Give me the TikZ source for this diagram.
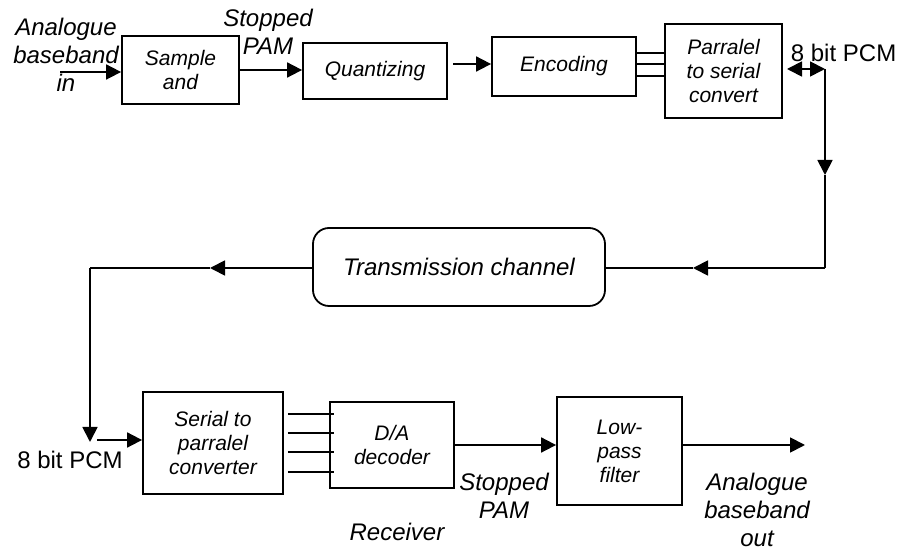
\documentclass[tikz,border=0pt]{standalone}
\usepackage{fontspec}
\setmainfont{Liberation Sans}
\usetikzlibrary{positioning}
\usetikzlibrary{arrows.meta}
\usetikzlibrary{calc}

\begin{document}
\begin{tikzpicture}[ x = 0.5pt, y = -0.5pt
                   , >={Triangle[width=7.5pt, length=7.5pt]}
                   , line width = 0.9pt
                   , every node/.style = { align = center
                                       , inner sep = 0pt }
                   ]

    \tikzset{ block/.style = { rectangle
                             , draw = black
                             , font = \fontsize{10.5}{12}\selectfont\itshape }
            , chan/.style = { block, rounded corners = 8pt
                            , font = \fontsize{12}{14}\selectfont\itshape }
            , lbl/.style = { font = \fontsize{12}{14}\selectfont\itshape }
            , pcm/.style = { font = \fontsize{12}{14}\selectfont }}

    \useasboundingbox (0,0) rectangle (906,549);
    %%
    %% Nodes
    %%
    \node (sample) [block, minimum width=58.5pt, minimum height=34pt]   at (180.5,70)  {Sample\\and};
    \node (quant)  [block, minimum width=72pt, minimum height=28pt]     at (375,71)    {Quantizing};
    \node (enc)    [block, minimum width=72pt, minimum height=29.5pt]   at (564,66.5)  {Encoding};
    \node (ps)     [block, minimum width=58.5pt, minimum height=47pt]   at (723.5,71)  {Parralel\\to serial\\convert};
    \node (chan)   [chan, minimum width=146pt, minimum height=39pt]     at (459,267)   {Transmission channel};
    \node (sp)     [block, minimum width=70pt, minimum height=51pt]     at (213,443)   {Serial to\\parralel\\converter};
    \node (da)     [block, minimum width=62pt, minimum height=43pt]     at (392,445)   {D/A\\decoder};
    \node (lpf)    [block, minimum width=62.5pt, minimum height=54pt]   at (619.5,451) {Low-\\pass\\filter};

    %% labels
    \node (inlbl)  [lbl] at (66,55)   {Analogue\\baseband\\in};
    \node (pam1)   [lbl] at (268,32)  {Stopped\\PAM};
    \node (pcm1)   [pcm, anchor=west] at (790,53) {8 bit PCM};
    \node (pcm2)   [pcm] at (70,460)  {8 bit PCM};
    \node (pam2)   [lbl] at (504,496) {Stopped\\PAM};
    \node (outlbl) [lbl] at (757,510) {Analogue\\baseband\\out};
    \node (rx)     [lbl] at (397,532) {Receiver};

    %% corners of the line
    \coordinate (in)    at (60,72);
    \coordinate (qe)    at (453,64);
    \coordinate (psout) at (787,69);
    \coordinate (rt)    at (825,69);
    \coordinate (rdn)   at (825,175);
    \coordinate (rb)    at (825,268);
    \coordinate (rarr)  at (693,268);
    \coordinate (larr)  at (210,268);
    \coordinate (lt)    at (90,268);
    \coordinate (ldn)   at (90,442);
    \coordinate (spin)  at (97,440);
    \coordinate (out)   at (805,445);

    %%
    %% Connections
    %%
    \draw[->] (in) -- (sample.west |- in);
    \draw[->] (sample.east) -- (quant.west |- sample.east);
    \draw[->] (qe) -- (qe -| enc.west);
    \foreach \y in {53,64,76}
      \draw (enc.east |- 0,\y) -- (ps.west |- 0,\y);
    \draw[<->] (psout) -- (rt);
    \draw[->] (rt) -- (rdn);
    \draw (rdn) -- (rb);
    \draw[->] (rb) -- (rarr);
    \draw (rarr) -- (chan.east |- rarr);
    \draw[->] (chan.west |- larr) -- (larr);
    \draw (larr) -- (lt);
    \draw[->] (lt) -- (ldn);
    \draw[->] (spin) -- (sp.west |- spin);
    \foreach \y in {414,433,452,472}
      \draw ($(sp.east |- 0,\y)+(4,0)$) -- ($(da.west |- 0,\y)+(5,0)$);
    \draw[->] (da.east) -- (lpf.west |- da.east);
    \draw[->] (lpf.east |- da.east) -- (out);
\end{tikzpicture}
\end{document}
